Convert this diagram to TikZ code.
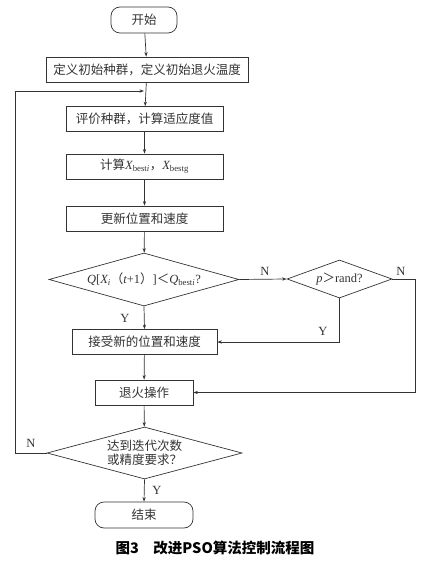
\documentclass[tikz,border=0pt]{standalone}
\usepackage{fontspec}
\setmainfont{Liberation Serif}
\newfontfamily\cjk{Noto Sans CJK SC}
\newfontfamily\lat{Liberation Serif}
\usetikzlibrary{shapes.geometric,arrows.meta}
\newcommand\li[1]{{\lat\itshape #1}}
\newcommand\lr[1]{{\lat #1}}
\definecolor{ink}{HTML}{333333}
\tikzset{
  base/.style={draw=ink, line width=0.7pt, text=ink, font=\cjk\fontsize{12.5}{15}\selectfont, inner sep=0pt},
  box/.style={base, rectangle, minimum height=25pt},
  term/.style={base, rectangle, rounded corners=9pt, minimum height=26pt},
  dec/.style={base, diamond},
  arr/.style={draw=ink, line width=0.7pt, -{Stealth[length=4.5pt,width=3.2pt]}},
  ln/.style={draw=ink, line width=0.7pt},
  lab/.style={text=ink, font=\lat\fontsize{12.5}{15}\selectfont, inner sep=0pt}
}
\begin{document}
\begin{tikzpicture}[x=1pt,y=-1pt]
\useasboundingbox (0,0) rectangle (425,561);
\node[term, minimum width=66pt] (start) at (144,20) {开始};
\node[box, minimum width=202pt] (init) at (147,69.5) {定义初始种群，定义初始退火温度};
\node[box, minimum width=157pt] (eval) at (144.5,119) {评价种群，计算适应度值};
\node[box, minimum width=157pt] (calc) at (144.5,166.5) {计算\li{X}\textsubscript{\lr{best}\li{i}}，\li{X}\textsubscript{\lr{bestg}}};
\node[box, minimum width=157pt] (upd) at (144.5,218.5) {更新位置和速度};
\node[dec, aspect=3.6, minimum width=190pt, minimum height=53pt] (d1) at (144,279.5) {\li{Q}\lr{[}\li{X}\textsubscript{\li{i}}（\li{t}\lr{+1}）\lr{]}＜\li{Q}\textsubscript{\lr{best}\li{i}}\lr{?}};
\node[dec, aspect=2.8, minimum width=105pt, minimum height=38pt] (d2) at (339.5,279) {\li{p}＞\lr{rand?}};
\node[box, minimum width=145pt] (acc) at (144.5,342) {接受新的位置和速度};
\node[box, minimum width=98pt] (ann) at (144,392.5) {退火操作};
\node[dec, aspect=3.75, minimum width=195pt, minimum height=52pt, align=center, font=\cjk\fontsize{12.5}{14.5}\selectfont] (d3) at (144.5,453) {达到迭代次数\\或精度要求？};
\node[term, minimum width=98pt] (end) at (144,515) {结束};
\node[font=\cjk\bfseries\fontsize{14.5}{16}\selectfont, inner sep=0pt] (cap) at (215,548) {图3\quad 改进PSO算法控制流程图};

\coordinate (rt) at (415,279);
\coordinate (lb) at (15,453);
\coordinate (lt) at (15,91);
\coordinate (mj) at (144,91);

\draw[arr] (start) -- (init);
\draw[arr] (init) -- (eval);
\draw[arr] (eval) -- (calc);
\draw[arr] (calc) -- (upd);
\draw[arr] (upd) -- (d1);
\draw[arr] (d1.east) -- (d2.west);
\draw[arr] (d1.south) -- (acc.north);
\draw[arr] (d2.south) |- (acc.east);
\draw[arr] (d2.east) -- (rt) |- (ann.east);
\draw[arr] (acc) -- (ann);
\draw[arr] (ann) -- (d3);
\draw[arr] (d3.south) -- (end.north);
\draw[arr] (d3.west) -- (lb) -- (lt) -- (mj);

\node[lab] (n1) at (265,271) {N};
\node[lab] (n2) at (401,271) {N};
\node[lab] (y1) at (125,318) {Y};
\node[lab] (y2) at (323,331) {Y};
\node[lab] (n3) at (31,443) {N};
\node[lab] (y3) at (157,490) {Y};
\end{tikzpicture}
\end{document}
